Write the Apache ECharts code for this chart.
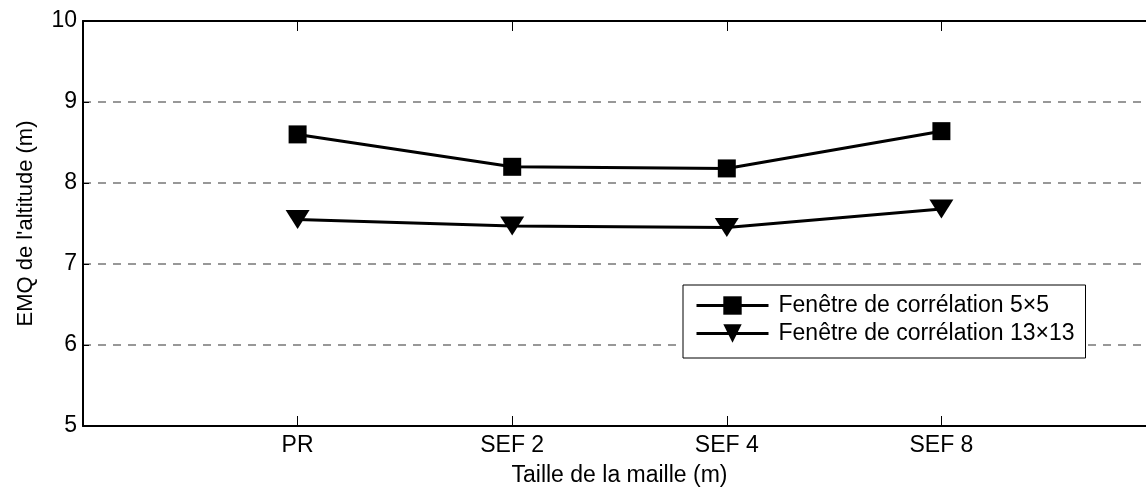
<!DOCTYPE html>
<html>
<head>
<meta charset="utf-8">
<script src="https://cdn.jsdelivr.net/npm/echarts@6/dist/echarts.min.js"></script>
<style>html,body{margin:0;padding:0;background:#fff;overflow:hidden;}#c{width:1146px;height:487px;}</style>
</head>
<body>
<div id="c"></div>
<script>
var categories = ['PR', 'SEF 2', 'SEF 4', 'SEF 8'];
var series5x5 = [8.60, 8.20, 8.18, 8.64];
var series13x13 = [7.55, 7.47, 7.45, 7.68];
var seriesNames = ['Fenêtre de corrélation 5×5', 'Fenêtre de corrélation 13×13'];
var yTicks = [5, 6, 7, 8, 9, 10];
var xTickValues = [1, 2, 3, 4];

function pairs(vals) { return vals.map(function (v, i) { return [i + 1, v]; }); }

var font = 'Liberation Sans, Arial, sans-serif';
var chart = echarts.init(document.getElementById('c'), null, {renderer: 'canvas'});
chart.setOption({
  animation: false,
  backgroundColor: '#fff',
  grid: {left: 83, top: 21, width: 1073, height: 405, containLabel: false, outerBoundsMode: 'none'},
  xAxis: [{
    type: 'value', min: 0, max: 5, interval: 1, position: 'bottom',
    name: 'Taille de la maille (m)', nameLocation: 'middle', nameGap: 38,
    nameTextStyle: {fontFamily: font, fontSize: 23, color: '#000'},
    axisLine: {show: true, onZero: false, lineStyle: {color: '#000', width: 2}},
    axisTick: {show: true, inside: true, length: 10, customValues: xTickValues, lineStyle: {color: '#000'}},
    axisLabel: {margin: 8, fontFamily: font, fontSize: 23, color: '#000',
      formatter: function (v) { return categories[v - 1] || ''; }},
    splitLine: {show: false}
  }, {
    type: 'value', min: 0, max: 5, interval: 1, position: 'top',
    axisLine: {show: true, onZero: false, lineStyle: {color: '#000', width: 2}},
    axisTick: {show: true, inside: true, length: 10, customValues: xTickValues, lineStyle: {color: '#000'}},
    axisLabel: {show: false}, splitLine: {show: false}
  }],
  yAxis: {
    type: 'value', min: yTicks[0], max: yTicks[yTicks.length - 1], interval: 1,
    name: "EMQ de l'altitude (m)", nameLocation: 'middle', nameGap: 46,
    nameTextStyle: {fontFamily: font, fontSize: 22, color: '#000'},
    axisLine: {show: true, lineStyle: {color: '#000', width: 2}},
    axisTick: {show: true, inside: true, length: 6, lineStyle: {color: '#000'}},
    axisLabel: {margin: 6, fontFamily: font, fontSize: 23, color: '#000'},
    splitLine: {show: true, lineStyle: {color: '#777', type: [8, 7], width: 1.5}}
  },
  legend: {
    orient: 'vertical', left: 683, top: 285,
    backgroundColor: '#fff', borderColor: '#000', borderWidth: 1,
    padding: [9, 11, 13, 12], itemGap: 5, itemWidth: 72, itemHeight: 23,
    lineStyle: {color: '#000', width: 3},
    textStyle: {fontFamily: font, fontSize: 23, color: '#000', padding: [0, 0, 0, 5]},
    data: seriesNames
  },
  series: [{
    name: seriesNames[0], type: 'line', data: pairs(series5x5),
    symbol: 'rect', symbolSize: 18,
    lineStyle: {color: '#000', width: 3}, itemStyle: {color: '#000'}
  }, {
    name: seriesNames[1], type: 'line', data: pairs(series13x13),
    symbol: 'triangle', symbolSize: [24, 19], symbolRotate: 180,
    lineStyle: {color: '#000', width: 3}, itemStyle: {color: '#000'}
  }]
});
</script>
</body>
</html>
